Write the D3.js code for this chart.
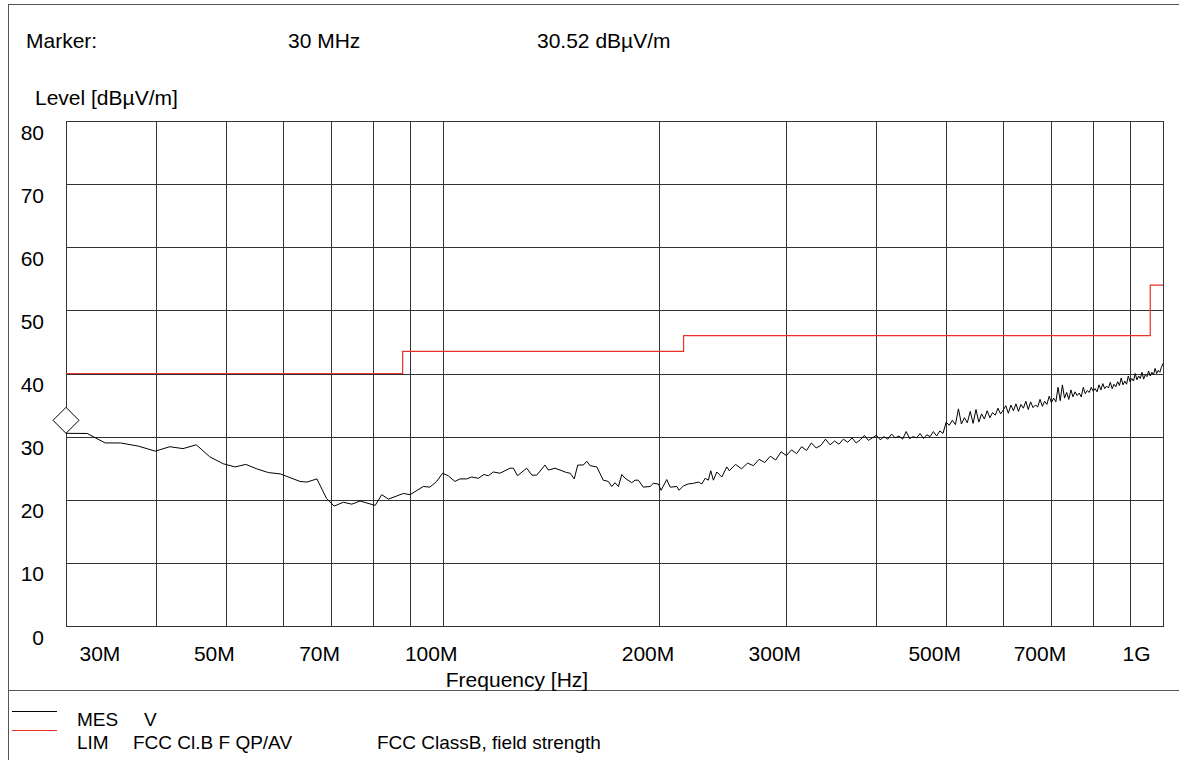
<!DOCTYPE html>
<html>
<head>
  <meta charset="UTF-8">
  <title>Radiated emission scan</title>
  <script src="https://cdnjs.cloudflare.com/ajax/libs/d3/7.8.5/d3.min.js"></script>
  <style>
    body { margin: 0; background: #fff; }
    text { font-family: "Liberation Sans", Arial, sans-serif; font-size: 21px; fill: #000; }
    .legend text { font-size: 19px; }
    .grid line { stroke: #333; stroke-width: 1; shape-rendering: crispEdges; }
  </style>
</head>
<body>
<script>
  // frequency axis (MHz)
  const gridFreqs = [40, 50, 60, 70, 80, 90, 100, 200, 300, 400, 500, 600, 700, 800, 900];
  const xTickFreqs = [30, 50, 70, 100, 200, 300, 500, 700, 1000];
  const xTickLabels = ["30M", "50M", "70M", "100M", "200M", "300M", "500M", "700M", "1G"];
  const levelTicks = [0, 10, 20, 30, 40, 50, 60, 70, 80];

  // limit line FCC Class B (step after)
  const limFreq = [30, 88, 216, 960, 1000];
  const limLevel = [40, 43.5, 46, 54, 54];

  // measured trace (MES)
  const mesFreq = [
    30.0, 32.1, 34.0, 35.7, 37.8, 39.9, 41.8, 43.6, 45.5, 47.5, 49.6, 51.5, 53.3, 55.2, 57.3, 59.5,
    61.4, 63.4, 64.8, 66.9, 69.0, 70.7, 72.8, 74.8, 76.8, 80.6, 82.3, 84.1, 88.2, 90.1, 94.0, 96.0,
    98.1, 100.0, 101.8, 104.0, 105.7, 108.0, 109.7, 112.1, 114.1, 115.7, 117.6, 120.1, 124.0, 125.4,
    127.0, 130.8, 133.0, 135.1, 138.7, 140.2, 143.2, 148.7, 150.3, 152.3, 154.0, 156.8, 158.5, 160.2,
    163.7, 167.1, 169.8, 171.7, 173.5, 175.4, 177.3, 179.2, 183.0, 185.0, 186.9, 189.9, 194.1, 196.1,
    199.3, 201.0, 204.7, 206.9, 211.4, 212.9, 215.9, 219.3, 222.9, 226.5, 229.0, 231.4, 233.8, 235.6,
    237.6, 240.2, 244.1, 248.0,
    250, 255, 260, 265, 270, 275, 280, 285, 290, 295, 300, 305, 310, 315, 320, 325, 330, 335, 340, 345,
    350, 355, 360, 365, 370, 375, 380, 385, 390, 395, 400, 405, 410, 415, 420, 425, 430, 435, 440, 445,
    450, 455, 460, 465, 470, 475, 480, 485, 490, 495, 500, 505, 510, 515, 520, 525, 530, 535, 540, 545,
    550, 555, 560, 565, 570, 575, 580, 585, 590, 595, 600, 605, 610, 615, 620, 625, 630, 635, 640, 645,
    650, 655, 660, 665, 670, 675, 680, 685, 690, 695, 700, 705, 710, 715, 720, 725, 730, 735, 740, 745,
    750, 755, 760, 765, 770, 775, 780, 785, 790, 795, 800, 805, 810, 815, 820, 825, 830, 835, 840, 845,
    850, 855, 860, 865, 870, 875, 880, 885, 890, 895, 900, 905, 910, 915, 920, 925, 930, 935, 940, 945,
    950, 955, 960, 965, 970, 975, 980, 985, 990, 995, 1000
  ];
  const mesLevel = [
    30.52, 30.5, 29.0, 29.0, 28.5, 27.7, 28.4, 28.1, 28.7, 26.8, 25.7, 25.2, 25.6, 24.9, 24.3, 24.1,
    23.5, 22.9, 22.8, 23.3, 20.2, 19.0, 19.6, 19.3, 19.8, 19.1, 20.8, 20.1, 21.0, 20.8, 22.1, 22.0,
    22.9, 24.2, 23.8, 22.9, 23.3, 23.3, 23.6, 23.4, 24.0, 23.8, 24.4, 24.2, 25.0, 25.0,
    23.8, 25.0, 23.9, 23.9, 25.5, 24.7, 25.0, 24.3, 24.2, 23.3, 25.5, 25.5, 26.1, 25.4,
    25.2, 23.1, 22.9, 22.1, 22.7, 22.1, 24.0, 23.4, 22.7, 23.1, 23.1, 22.0, 22.1, 22.6,
    22.5, 21.5, 23.2, 22.0, 22.1, 21.5, 22.2, 22.5, 22.6, 22.8, 22.5, 23.4, 23.1, 24.6,
    23.1, 24.4, 23.6, 25.2,
    24.6, 25.6, 24.9, 25.8, 25.4, 26.4, 25.9, 26.9, 26.3, 27.6, 27.0, 27.9, 27.3, 28.4, 27.8, 29.0, 28.2, 28.6, 29.6, 28.7,
    29.3, 28.8, 29.6, 29.1, 29.8, 29.0, 29.5, 30.2, 29.4, 29.8, 30.2, 29.5, 30.0, 29.6, 30.4, 29.8, 30.1, 29.6, 30.8, 29.7,
    30.0, 29.8, 30.5, 29.7, 30.3, 30.0, 30.8, 30.1, 30.9, 30.5, 32.3, 31.8, 32.6, 31.9, 34.4, 32.0, 33.0, 32.2, 34.0, 32.1,
    34.3, 32.3, 33.6, 32.8, 34.1, 33.0, 33.8, 33.4, 34.5, 33.6, 34.2, 34.9, 33.7, 35.0, 34.1, 35.2, 34.0, 35.1, 34.5, 35.6,
    34.3, 35.5, 34.6, 35.0, 34.7, 35.9, 34.8, 35.6, 35.1, 36.4, 35.4, 36.1, 35.5, 37.8, 35.7, 38.2, 36.1, 37.0, 35.9, 37.4,
    36.3, 37.1, 36.5, 36.9, 36.3, 37.8, 36.8, 37.3, 37.0, 37.8, 37.2, 37.6, 37.1, 38.2, 37.4, 38.4, 37.6, 38.0, 37.7, 38.6,
    37.6, 38.3, 37.9, 38.7, 38.1, 39.3, 38.2, 38.8, 38.3, 39.6, 38.7, 39.2, 38.8, 40.0, 39.0, 39.6, 39.2, 40.2, 39.1, 39.8,
    39.5, 40.4, 39.6, 40.2, 39.8, 40.8, 40.0, 40.5, 40.2, 41.0, 41.6
  ];

  const markerFreq = 30;
  const markerLevel = 30.52;

  const W = 1179, H = 760;
  const svg = d3.select("body").append("svg")
    .attr("width", W)
    .attr("height", H);

  const x = d3.scaleLog().domain([30, 1000]).range([66, 1163]);
  const y = d3.scaleLinear().domain([0, 80]).range([626, 121]);

  // outer frame + legend separator
  svg.append("path")
    .attr("d", `M8.5,${H} V4.5 H${W}`)
    .attr("fill", "none").attr("stroke", "#555").attr("shape-rendering", "crispEdges");
  svg.append("line")
    .attr("x1", 8).attr("x2", W).attr("y1", 690.5).attr("y2", 690.5)
    .attr("stroke", "#555").attr("shape-rendering", "crispEdges");

  // header
  svg.append("text").attr("x", 26).attr("y", 48).text("Marker:");
  svg.append("text").attr("x", 288).attr("y", 48).text("30 MHz");
  svg.append("text").attr("x", 537).attr("y", 48).text("30.52 dBµV/m");
  svg.append("text").attr("x", 35).attr("y", 105).text("Level [dBµV/m]");

  // grid
  const grid = svg.append("g").attr("class", "grid");
  grid.selectAll(".v").data(gridFreqs).join("line")
    .attr("x1", d => Math.round(x(d)) + 0.5).attr("x2", d => Math.round(x(d)) + 0.5)
    .attr("y1", y(80)).attr("y2", y(0));
  grid.selectAll(".h").data(levelTicks).join("line")
    .attr("x1", x(30)).attr("x2", x(1000))
    .attr("y1", d => Math.round(y(d)) + 0.5).attr("y2", d => Math.round(y(d)) + 0.5);
  grid.append("rect")
    .attr("x", Math.round(x(30)) + 0.5).attr("y", Math.round(y(80)) + 0.5)
    .attr("width", Math.round(x(1000)) - Math.round(x(30)))
    .attr("height", Math.round(y(0)) - Math.round(y(80)))
    .attr("fill", "none").attr("stroke", "#333").attr("shape-rendering", "crispEdges");

  // y axis labels
  const yAxis = svg.append("g")
    .attr("transform", "translate(44,0)")
    .call(d3.axisLeft(y).tickValues(levelTicks).tickSize(0).tickPadding(0));
  yAxis.select(".domain").remove();
  yAxis.selectAll("text")
    .attr("dy", 0).attr("y", 18)
    .style("font-size", "21px").style("font-family", "Liberation Sans, Arial, sans-serif");

  // x axis labels
  const xAxis = svg.append("g")
    .attr("transform", "translate(0,661)")
    .call(d3.axisBottom(x).tickValues(xTickFreqs).tickSize(0).tickPadding(0)
      .tickFormat((d, i) => xTickLabels[i]));
  xAxis.select(".domain").remove();
  xAxis.selectAll("text")
    .style("font-size", "21px").style("font-family", "Liberation Sans, Arial, sans-serif")
    .attr("dy", 0).attr("y", 0)
    .attr("text-anchor", (d, i) => i === 0 ? "start" : (i === xTickFreqs.length - 1 ? "end" : "middle"))
    .attr("x", (d, i) => i === 0 ? 13 : (i === xTickFreqs.length - 1 ? -13 : -12));

  svg.append("text")
    .attr("x", 517).attr("y", 687)
    .attr("text-anchor", "middle")
    .text("Frequency [Hz]");

  // limit line
  const limData = limFreq.map((f, i) => [f, limLevel[i]]);
  svg.append("path")
    .datum(limData)
    .attr("fill", "none")
    .attr("stroke", "#e8312b")
    .attr("stroke-width", 1.2)
    .attr("d", d3.line().x(d => x(d[0])).y(d => y(d[1])).curve(d3.curveStepAfter));

  // measured trace
  const mesData = mesFreq.map((f, i) => [f, mesLevel[i]]);
  svg.append("path")
    .datum(mesData)
    .attr("fill", "none")
    .attr("stroke", "#000")
    .attr("stroke-width", 1)
    .attr("stroke-linejoin", "round")
    .attr("d", d3.line().x(d => x(d[0])).y(d => y(d[1])));

  // marker diamond, bottom vertex on the marker point
  const mx = x(markerFreq), my = y(markerLevel);
  svg.append("path")
    .attr("d", `M${mx},${my} L${mx + 13},${my - 13} L${mx},${my - 26} L${mx - 13},${my - 13} Z`)
    .attr("fill", "#fff").attr("stroke", "#000").attr("stroke-width", 1);

  // legend
  const legend = svg.append("g").attr("class", "legend");
  legend.append("line").attr("x1", 12).attr("x2", 57).attr("y1", 711.5).attr("y2", 711.5)
    .attr("stroke", "#000");
  legend.append("line").attr("x1", 12).attr("x2", 57).attr("y1", 730.5).attr("y2", 730.5)
    .attr("stroke", "#e8312b");
  legend.append("text").attr("x", 77).attr("y", 726).text("MES");
  legend.append("text").attr("x", 144).attr("y", 726).text("V");
  legend.append("text").attr("x", 77).attr("y", 749).text("LIM");
  legend.append("text").attr("x", 133).attr("y", 749).text("FCC Cl.B F QP/AV");
  legend.append("text").attr("x", 377).attr("y", 749).text("FCC ClassB, field strength");
</script>
</body>
</html>
